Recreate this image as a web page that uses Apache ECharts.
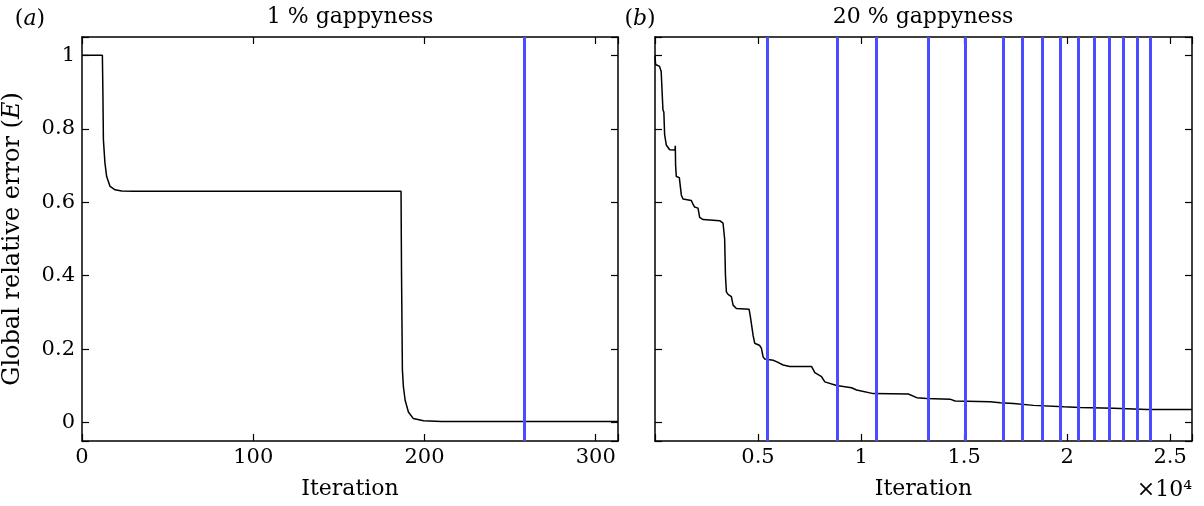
<!DOCTYPE html>
<html>
<head>
<meta charset="utf-8">
<script src="https://cdn.jsdelivr.net/npm/echarts@6/dist/echarts.min.js"></script>
<style>
html,body{margin:0;padding:0;background:#fff;}
#chart{width:1204px;height:506px;}
</style>
</head>
<body>
<div id="chart"></div>
<script>
// ---- Data ----
var leftX = [0, 11.9, 12.2, 12.5, 13.4, 14.4, 16.4, 19.3, 23.2, 30, 186.3, 186.6, 187.1, 187.7, 188.7, 190.6, 193.5, 199.4, 210, 313];
var leftY = [1, 1, 0.9, 0.77, 0.707, 0.670, 0.643, 0.634, 0.631, 0.630, 0.630, 0.40, 0.143, 0.097, 0.061, 0.029, 0.011, 0.005, 0.003, 0.003];
var leftBlue = [258];

var rightX = [0, 30, 60, 220, 300, 385, 430, 467, 548, 710, 970, 985, 1000, 1034, 1180, 1277, 1358, 1763, 1843, 1924, 2087, 2168, 2330, 3140, 3302, 3330, 3380, 3420, 3464, 3545, 3707, 3788, 3950, 4565, 4630, 4759, 4840, 5084, 5165, 5246, 5327, 5732, 5894, 6218, 6542, 7595, 7757, 8081, 8243, 8810, 9540, 9783, 10592, 12294, 12699, 13183, 14320, 14563, 16265, 16751, 17400, 18372, 19830, 20640, 22260, 23880, 26060];
var rightY = [0.998, 0.975, 0.973, 0.970, 0.956, 0.852, 0.845, 0.784, 0.756, 0.743, 0.742, 0.754, 0.70, 0.670, 0.667, 0.620, 0.609, 0.605, 0.595, 0.587, 0.584, 0.559, 0.553, 0.550, 0.543, 0.542, 0.50, 0.40, 0.356, 0.349, 0.343, 0.320, 0.311, 0.309, 0.288, 0.238, 0.216, 0.210, 0.202, 0.179, 0.173, 0.170, 0.166, 0.157, 0.153, 0.153, 0.136, 0.125, 0.111, 0.101, 0.095, 0.089, 0.079, 0.078, 0.068, 0.066, 0.064, 0.059, 0.057, 0.054, 0.052, 0.047, 0.043, 0.041, 0.039, 0.036, 0.036];
var rightBlue = [5471, 8825, 10715, 13280, 15044, 16885, 17825, 18810, 19690, 20520, 21340, 22030, 22700, 23390, 24050];

var leftXRange = [0, 313];
var rightXRange = [0, 26060];
var yRange = [-0.05, 1.05];

// ---- Styling ----
var FONT = 'DejaVu Serif';
var BLUE = '#4b4bff';

function pairs(xs, ys) { return xs.map(function (x, i) { return [x, ys[i]]; }); }

function xAxisCfg(grid, range, pos, showLabels, fmt, name) {
  return {
    type: 'value', gridIndex: grid, position: pos, min: range[0], max: range[1],
    splitNumber: grid === 0 ? 3 : 5,
    name: name || '', nameLocation: 'middle', nameGap: 37,
    nameTextStyle: { fontFamily: FONT, fontSize: 22, color: '#000' },
    axisLine: { show: true, onZero: false, lineStyle: { color: '#000', width: 1.5 } },
    axisTick: { show: true, inside: true, length: 7, lineStyle: { color: '#000', width: 1.2 } },
    axisLabel: { show: showLabels, margin: 6, fontFamily: FONT, fontSize: 21, color: '#000', formatter: fmt, showMinLabel: true, showMaxLabel: true },
    splitLine: { show: false }
  };
}
function yAxisCfg(grid, pos, showLabels, name) {
  return {
    type: 'value', gridIndex: grid, position: pos, min: yRange[0], max: yRange[1], splitNumber: 5,
    name: name || '', nameLocation: 'middle', nameGap: 57, nameRotate: 90,
    nameTextStyle: { fontFamily: FONT, fontSize: 24, color: '#000',
      rich: { i: { fontFamily: FONT, fontStyle: 'italic', fontSize: 24, color: '#000' } } },
    axisLine: { show: true, onZero: false, lineStyle: { color: '#000', width: 1.5 } },
    axisTick: { show: true, inside: true, length: 7, lineStyle: { color: '#000', width: 1.2 } },
    axisLabel: { show: showLabels, margin: 7, fontFamily: FONT, fontSize: 21, color: '#000',
      formatter: function (v) {
        if (Math.abs(v * 5 - Math.round(v * 5)) > 1e-6) return '';
        return String(parseFloat(v.toFixed(2)));
      } },
    splitLine: { show: false }
  };
}
var fmtLeft = function (v) { return (Math.abs(v % 100) < 1e-9) ? String(v) : ''; };
var fmtRight = function (v) { return (v > 0 && Math.abs(v % 5000) < 1e-9) ? String(v / 1e4) : ''; };

function blueLines(vals) {
  return {
    silent: true, symbol: ['none', 'none'], animation: false,
    label: { show: false },
    lineStyle: { color: BLUE, width: 3, type: 'solid' },
    emphasis: { disabled: true },
    data: vals.map(function (v) { return { xAxis: v }; })
  };
}

var chart = echarts.init(document.getElementById('chart'), null, { renderer: 'canvas' });
chart.setOption({
  animation: false,
  backgroundColor: '#fff',
  grid: [
    { left: 82, right: 586, top: 37, bottom: 65 },
    { left: 655, right: 12, top: 37, bottom: 65 }
  ],
  xAxis: [
    xAxisCfg(0, leftXRange, 'bottom', true, fmtLeft, 'Iteration'),
    xAxisCfg(0, leftXRange, 'top', false, fmtLeft),
    xAxisCfg(1, rightXRange, 'bottom', true, fmtRight, 'Iteration'),
    xAxisCfg(1, rightXRange, 'top', false, fmtRight)
  ],
  yAxis: [
    yAxisCfg(0, 'left', true, 'Global relative error ({i|E})'),
    yAxisCfg(0, 'right', false),
    yAxisCfg(1, 'left', false),
    yAxisCfg(1, 'right', false)
  ],
  graphic: [
    { type: 'text', x: 350, y: 17, style: { text: '1 % gappyness', font: '22px "DejaVu Serif"', fill: '#000', align: 'center', verticalAlign: 'middle' } },
    { type: 'text', x: 923, y: 17, style: { text: '20 % gappyness', font: '22px "DejaVu Serif"', fill: '#000', align: 'center', verticalAlign: 'middle' } },
    { type: 'text', x: 30, y: 19, style: { text: '({i|a})', font: '22px "DejaVu Serif"', fill: '#000', align: 'center', verticalAlign: 'middle',
      rich: { i: { fontFamily: FONT, fontStyle: 'italic', fontSize: 22, fill: '#000' } } } },
    { type: 'text', x: 640, y: 19, style: { text: '({i|b})', font: '22px "DejaVu Serif"', fill: '#000', align: 'center', verticalAlign: 'middle',
      rich: { i: { fontFamily: FONT, fontStyle: 'italic', fontSize: 22, fill: '#000' } } } },
    { type: 'text', x: 1192, y: 490, style: { text: '×10⁴', font: '22px "DejaVu Serif"', fill: '#000', align: 'right', verticalAlign: 'middle' } }
  ],
  series: [
    {
      type: 'line', xAxisIndex: 0, yAxisIndex: 0, data: pairs(leftX, leftY),
      showSymbol: false, smooth: false, lineStyle: { color: '#000', width: 1.5 },
      markLine: blueLines(leftBlue), z: 3
    },
    {
      type: 'line', xAxisIndex: 2, yAxisIndex: 2, data: pairs(rightX, rightY),
      showSymbol: false, smooth: false, lineStyle: { color: '#000', width: 1.5 },
      markLine: blueLines(rightBlue), z: 3
    }
  ]
});
</script>
</body>
</html>
